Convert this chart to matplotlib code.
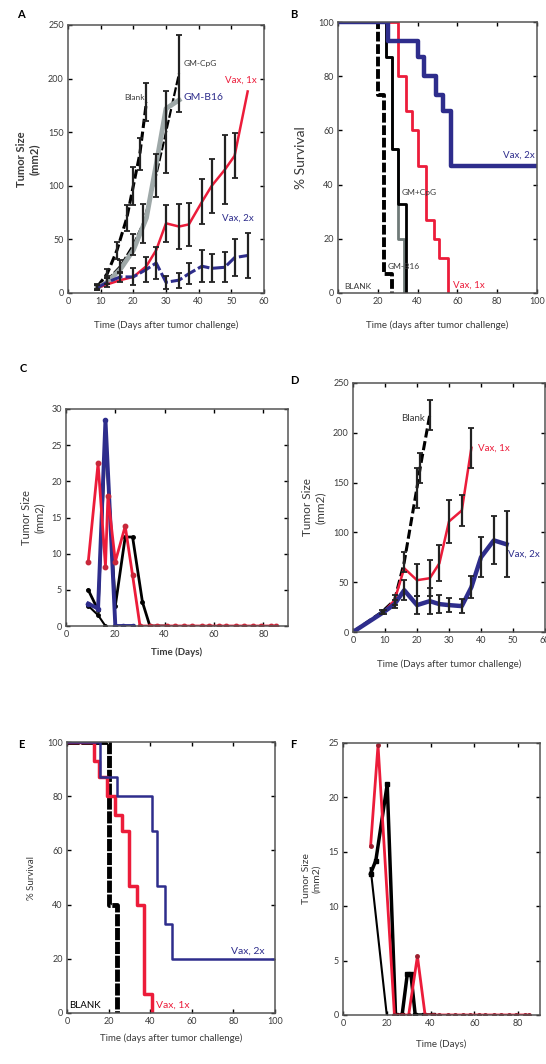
import numpy as np
import matplotlib
matplotlib.use("Agg")
import matplotlib.pyplot as plt

plt.rcParams['font.family'] = ['Lato', 'DejaVu Sans']

NAVY = '#2e2d8c'
RED = '#ec1c3a'
GRAY = '#9ea8a8'
TXT = '#3a3a3a'

# Panel A: tumor growth (mm2)
a_blank_x = [9, 12, 15, 18, 20, 22, 24]
a_blank_y = [6, 18, 40, 70, 100, 130, 178]
a_blank_err = [2, 4, 8, 12, 18, 15, 18]
a_cpg_x = [9, 12, 16, 20, 23, 27, 30, 34]
a_cpg_y = [5, 12, 25, 45, 65, 110, 150, 205]
a_cpg_err = [2, 4, 6, 10, 18, 20, 38, 36]
a_b16_x = [9, 12, 16, 20, 24, 27, 30, 34]
a_b16_y = [5, 10, 22, 40, 70, 120, 172, 180]
a_1x_x = [9, 12, 16, 20, 24, 27, 30, 34, 37, 41, 44, 48, 51, 55]
a_1x_y = [5, 8, 12, 15, 25, 40, 65, 62, 64, 85, 100, 115, 128, 188]
a_1x_err = [0, 0, 0, 0, 0, 0, 17, 21, 20, 21, 25, 32, 21, 0]
a_2x_x = [9, 12, 16, 20, 24, 27, 30, 34, 37, 41, 44, 48, 51, 55]
a_2x_y = [5, 10, 15, 15, 22, 28, 10, 12, 18, 25, 23, 24, 33, 35]
a_2x_err = [2, 4, 5, 8, 12, 15, 6, 7, 10, 15, 13, 14, 17, 21]

# Panel B: survival (%)
b_blank_t = [0, 20, 23, 27]
b_blank_s = [100, 73, 7, 0]
b_cpg_t = [0, 24, 27, 30, 33]
b_cpg_s = [100, 87, 53, 20, 0]
b_b16_t = [0, 24, 27, 30, 34]
b_b16_s = [100, 87, 53, 33, 0]
b_1x_t = [0, 30, 34, 37, 40, 44, 48, 51, 55.5]
b_1x_s = [100, 80, 67, 60, 47, 27, 20, 13, 0]
b_2x_t = [0, 25, 40, 43, 49, 53, 57, 100]
b_2x_s = [100, 93, 87, 80, 73, 67, 47, 47]

# Panel C: individual mice
c_red_x = [9, 13, 16, 17, 20, 24, 27, 30, 34, 37, 41, 44, 48, 51, 55, 58, 62, 65, 69, 72, 76, 79, 83, 85]
c_red_y = [8.8, 22.5, 8.2, 18, 8.9, 13.8, 7, 0, 0, 0, 0, 0, 0, 0, 0, 0, 0, 0, 0, 0, 0, 0, 0, 0]
c_blue_x = [9, 13, 16, 20, 23, 27]
c_blue_y = [3.1, 2.4, 28.5, 0, 0, 0]
c_black_x = [9, 13, 16, 20, 24, 27, 31, 34, 37, 41]
c_black_y = [5, 2.2, 26.3, 2.8, 12.3, 12.3, 3.3, 0, 0, 0]
c_black2_x = [9, 13, 16]
c_black2_y = [2.8, 1.5, 0]

# Panel D: tumor growth (mm2)
d_blank_x = [0, 9, 13, 16, 20, 21, 24]
d_blank_y = [0, 20, 32, 70, 145, 165, 218]
d_blank_err = [0, 2, 5, 10, 20, 15, 15]
d_1x_x = [0, 9.6, 13, 16, 20, 24, 27, 30, 34, 37]
d_1x_y = [0, 20, 32, 64, 52, 54, 69, 111, 122, 185]
d_1x_err = [0, 0, 0, 0, 16, 18, 18, 22, 16, 20]
d_2x_x = [0, 9.6, 13, 16, 20, 24, 27, 30, 34, 37, 40, 44, 48]
d_2x_y = [0, 20, 28, 42, 27, 31, 28, 27, 26, 45, 75, 92, 88]
d_2x_err = [0, 2, 4, 10, 9, 13, 9, 7, 7, 11, 20, 24, 33]

# Panel E: survival (%)
e_blank_t = [0, 20, 24]
e_blank_s = [100, 40, 0]
e_1x_t = [0, 12.8, 15.2, 19.2, 23.2, 26.4, 29.6, 33.6, 36.8, 40.8]
e_1x_s = [100, 93, 87, 80, 73, 67, 47, 40, 7, 0]
e_2x_t = [0, 16, 24, 40.8, 43.2, 47.2, 50.4, 100]
e_2x_s = [100, 87, 80, 67, 47, 33, 20, 20]

# Panel F: individual mice
f_red_x = [12.6, 16, 23.5, 27, 30, 34, 37.5, 41, 44, 48, 51, 55, 58, 62, 65, 69, 72, 76, 79, 83, 85]
f_red_y = [15.5, 24.8, 0, 0, 0, 5.4, 0, 0, 0, 0, 0, 0, 0, 0, 0, 0, 0, 0, 0, 0, 0]
f_black_x = [12.6, 15, 20.2, 24, 27, 29.4, 31, 33, 37, 41]
f_black_y = [13, 14.2, 21.2, 0, 0, 3.8, 3.8, 0, 0, 0]
f_black2_x = [12.6, 20]
f_black2_y = [13.5, 0]

W, H = 546, 1064
fig = plt.figure(figsize=(W / 100, H / 100), dpi=100)


def box(l, t, r, b):
    return fig.add_axes([l / W, 1 - b / H, (r - l) / W, (b - t) / H])


def style(ax, xlim, ylim, xt, yt):
    ax.set_xlim(*xlim)
    ax.set_ylim(*ylim)
    ax.set_xticks(xt)
    ax.set_yticks(yt)
    ax.tick_params(direction='in', top=True, right=True, length=3, width=1,
                   labelsize=6.5, labelcolor=TXT, pad=3)
    for s in ax.spines.values():
        s.set_color('#555555')
        s.set_linewidth(1.1)


def eb(ax, x, y, e):
    for xi, yi, ei in zip(x, y, e):
        if ei > 0:
            ax.errorbar(xi, yi, yerr=ei, fmt='none', ecolor='#222222', elinewidth=1.6,
                        capsize=2.5, capthick=1.3, zorder=5)


# ---- A
ax = box(68, 25, 264, 293)
style(ax, (0, 60), (0, 250), range(0, 61, 10), range(0, 251, 50))
ax.plot(a_blank_x, a_blank_y, color='black', lw=2.2, ls=(0, (3, 1.2)))
ax.plot(a_cpg_x, a_cpg_y, color='black', lw=1.6, ls=(0, (4, 1)))
ax.plot(a_b16_x, a_b16_y, color=GRAY, lw=3.5)
ax.plot(a_1x_x, a_1x_y, color=RED, lw=1.8)
ax.plot(a_2x_x, a_2x_y, color=NAVY, lw=2.2, ls=(0, (4, 1)))
eb(ax, a_blank_x, a_blank_y, a_blank_err)
eb(ax, a_cpg_x, a_cpg_y, a_cpg_err)
eb(ax, a_1x_x, a_1x_y, a_1x_err)
eb(ax, a_2x_x, a_2x_y, a_2x_err)
ax.text(23.5, 180, 'Blank', color=TXT, fontsize=6, ha='right')
ax.text(35.5, 212, 'GM-CpG', color=TXT, fontsize=6)
ax.text(35.5, 180, 'GM-B16', color=NAVY, fontsize=7.5)
ax.text(48, 196, 'Vax, 1x', color=RED, fontsize=7)
ax.text(47, 67, 'Vax, 2x', color=NAVY, fontsize=7)
ax.set_ylabel('Tumor Size\n(mm2)', fontsize=8, color=TXT, fontweight='bold', labelpad=6)
ax.set_xlabel('Time (Days after tumor challenge)', fontsize=7, color=TXT, labelpad=10)
fig.text(17 / W, 1 - 14 / H, 'A', fontsize=8, fontweight='bold', va='center')

# ---- B
ax = box(338, 22, 537, 293)
style(ax, (0, 100), (0, 100), range(0, 101, 20), range(0, 101, 20))
ax.step(b_blank_t, b_blank_s, where='post', color='black', lw=2.8, ls=(0, (2.5, 0.7)))
ax.step(b_cpg_t, b_cpg_s, where='post', color='#6f7a78', lw=2)
ax.step(b_b16_t, b_b16_s, where='post', color='black', lw=2)
ax.step(b_1x_t, b_1x_s, where='post', color=RED, lw=2)
ax.step(b_2x_t, b_2x_s, where='post', color=NAVY, lw=3.2)
ax.text(3, 1.5, 'BLANK', color=TXT, fontsize=6)
ax.text(25, 9, 'GM-B16', color=TXT, fontsize=6)
ax.text(32, 36, 'GM+CpG', color=TXT, fontsize=6)
ax.text(58, 2, 'Vax, 1x', color=RED, fontsize=7)
ax.text(83, 50, 'Vax, 2x', color=NAVY, fontsize=7)
ax.set_ylabel('% Survival', fontsize=10, color=TXT, labelpad=8)
ax.set_xlabel('Time (days after tumor challenge)', fontsize=7, color=TXT, labelpad=10)
fig.text(290 / W, 1 - 14 / H, 'B', fontsize=8, fontweight='bold', va='center')

# ---- C
ax = box(66, 409, 288, 626)
style(ax, (0, 90), (0, 30), range(0, 81, 20), range(0, 31, 5))
ax.plot(c_black2_x, c_black2_y, color='black', lw=1.5, marker='o', ms=2.5)
ax.plot(c_black_x, c_black_y, color='black', lw=2, marker='o', ms=2.5)
ax.plot(c_blue_x, c_blue_y, color=NAVY, lw=2.8, marker='o', ms=3)
ax.plot(c_red_x, c_red_y, color=RED, lw=2, marker='o', ms=3.2, mfc='#c8283a', mec='#c8283a')
ax.set_ylabel('Tumor Size\n(mm2)', fontsize=8, color=TXT, labelpad=5)
ax.set_xlabel('Time (Days)', fontsize=7, color=TXT, fontweight='bold', labelpad=6)
fig.text(20 / W, 1 - 368 / H, 'C', fontsize=8, fontweight='bold', va='center')

# ---- D
ax = box(353, 383, 545, 632)
style(ax, (0, 60), (0, 250), range(0, 61, 10), range(0, 251, 50))
ax.plot(d_blank_x, d_blank_y, color='black', lw=2.2, ls=(0, (3, 1.2)))
ax.plot(d_1x_x, d_1x_y, color=RED, lw=1.8)
ax.plot(d_2x_x, d_2x_y, color=NAVY, lw=3.2)
eb(ax, d_blank_x, d_blank_y, d_blank_err)
eb(ax, d_1x_x, d_1x_y, d_1x_err)
eb(ax, d_2x_x, d_2x_y, d_2x_err)
ax.text(22.5, 212, 'Blank', color=TXT, fontsize=7, ha='right')
ax.text(39, 182, 'Vax, 1x', color=RED, fontsize=7)
ax.text(48.5, 76, 'Vax, 2x', color=NAVY, fontsize=7)
ax.set_ylabel('Tumor Size\n(mm2)', fontsize=8.5, color=TXT, labelpad=5)
ax.set_xlabel('Time (Days after tumor challenge)', fontsize=7, color=TXT, labelpad=10)
fig.text(290 / W, 1 - 380 / H, 'D', fontsize=8, fontweight='bold', va='center')

# ---- E
ax = box(67, 742, 275, 1013)
style(ax, (0, 100), (0, 100), range(0, 101, 20), range(0, 101, 20))
ax.step(e_blank_t, e_blank_s, where='post', color='black', lw=3.5, ls=(0, (2.5, 0.35)))
ax.step(e_1x_t, e_1x_s, where='post', color=RED, lw=2.5)
ax.step(e_2x_t, e_2x_s, where='post', color=NAVY, lw=1.8)
ax.text(1, 2, 'BLANK', color='black', fontsize=7)
ax.text(43, 2, 'Vax, 1x', color=RED, fontsize=7.5)
ax.text(79, 22, 'Vax, 2x', color=NAVY, fontsize=7.5)
ax.set_ylabel('% Survival', fontsize=7, color=TXT, labelpad=8)
ax.set_xlabel('Time (days after tumor challenge)', fontsize=7, color=TXT, labelpad=5)
fig.text(18 / W, 1 - 745 / H, 'E', fontsize=8, fontweight='bold', va='center')

# ---- F
ax = box(343, 743, 540, 1015)
style(ax, (0, 90), (0, 25), range(0, 81, 20), range(0, 26, 5))
ax.plot(f_black2_x, f_black2_y, color='black', lw=1.5)
ax.plot(f_black_x, f_black_y, color='black', lw=2.5, marker='s', ms=2.5)
ax.plot(f_red_x, f_red_y, color=RED, lw=2, marker='o', ms=2.5, mfc='#9a2030', mec='#9a2030')
ax.set_ylabel('Tumor Size\n(mm2)', fontsize=7.5, color=TXT, labelpad=5)
ax.set_xlabel('Time (Days)', fontsize=7, color=TXT, labelpad=8)
fig.text(290 / W, 1 - 745 / H, 'F', fontsize=8, fontweight='bold', va='center')

fig.savefig('out.png', dpi=100)
